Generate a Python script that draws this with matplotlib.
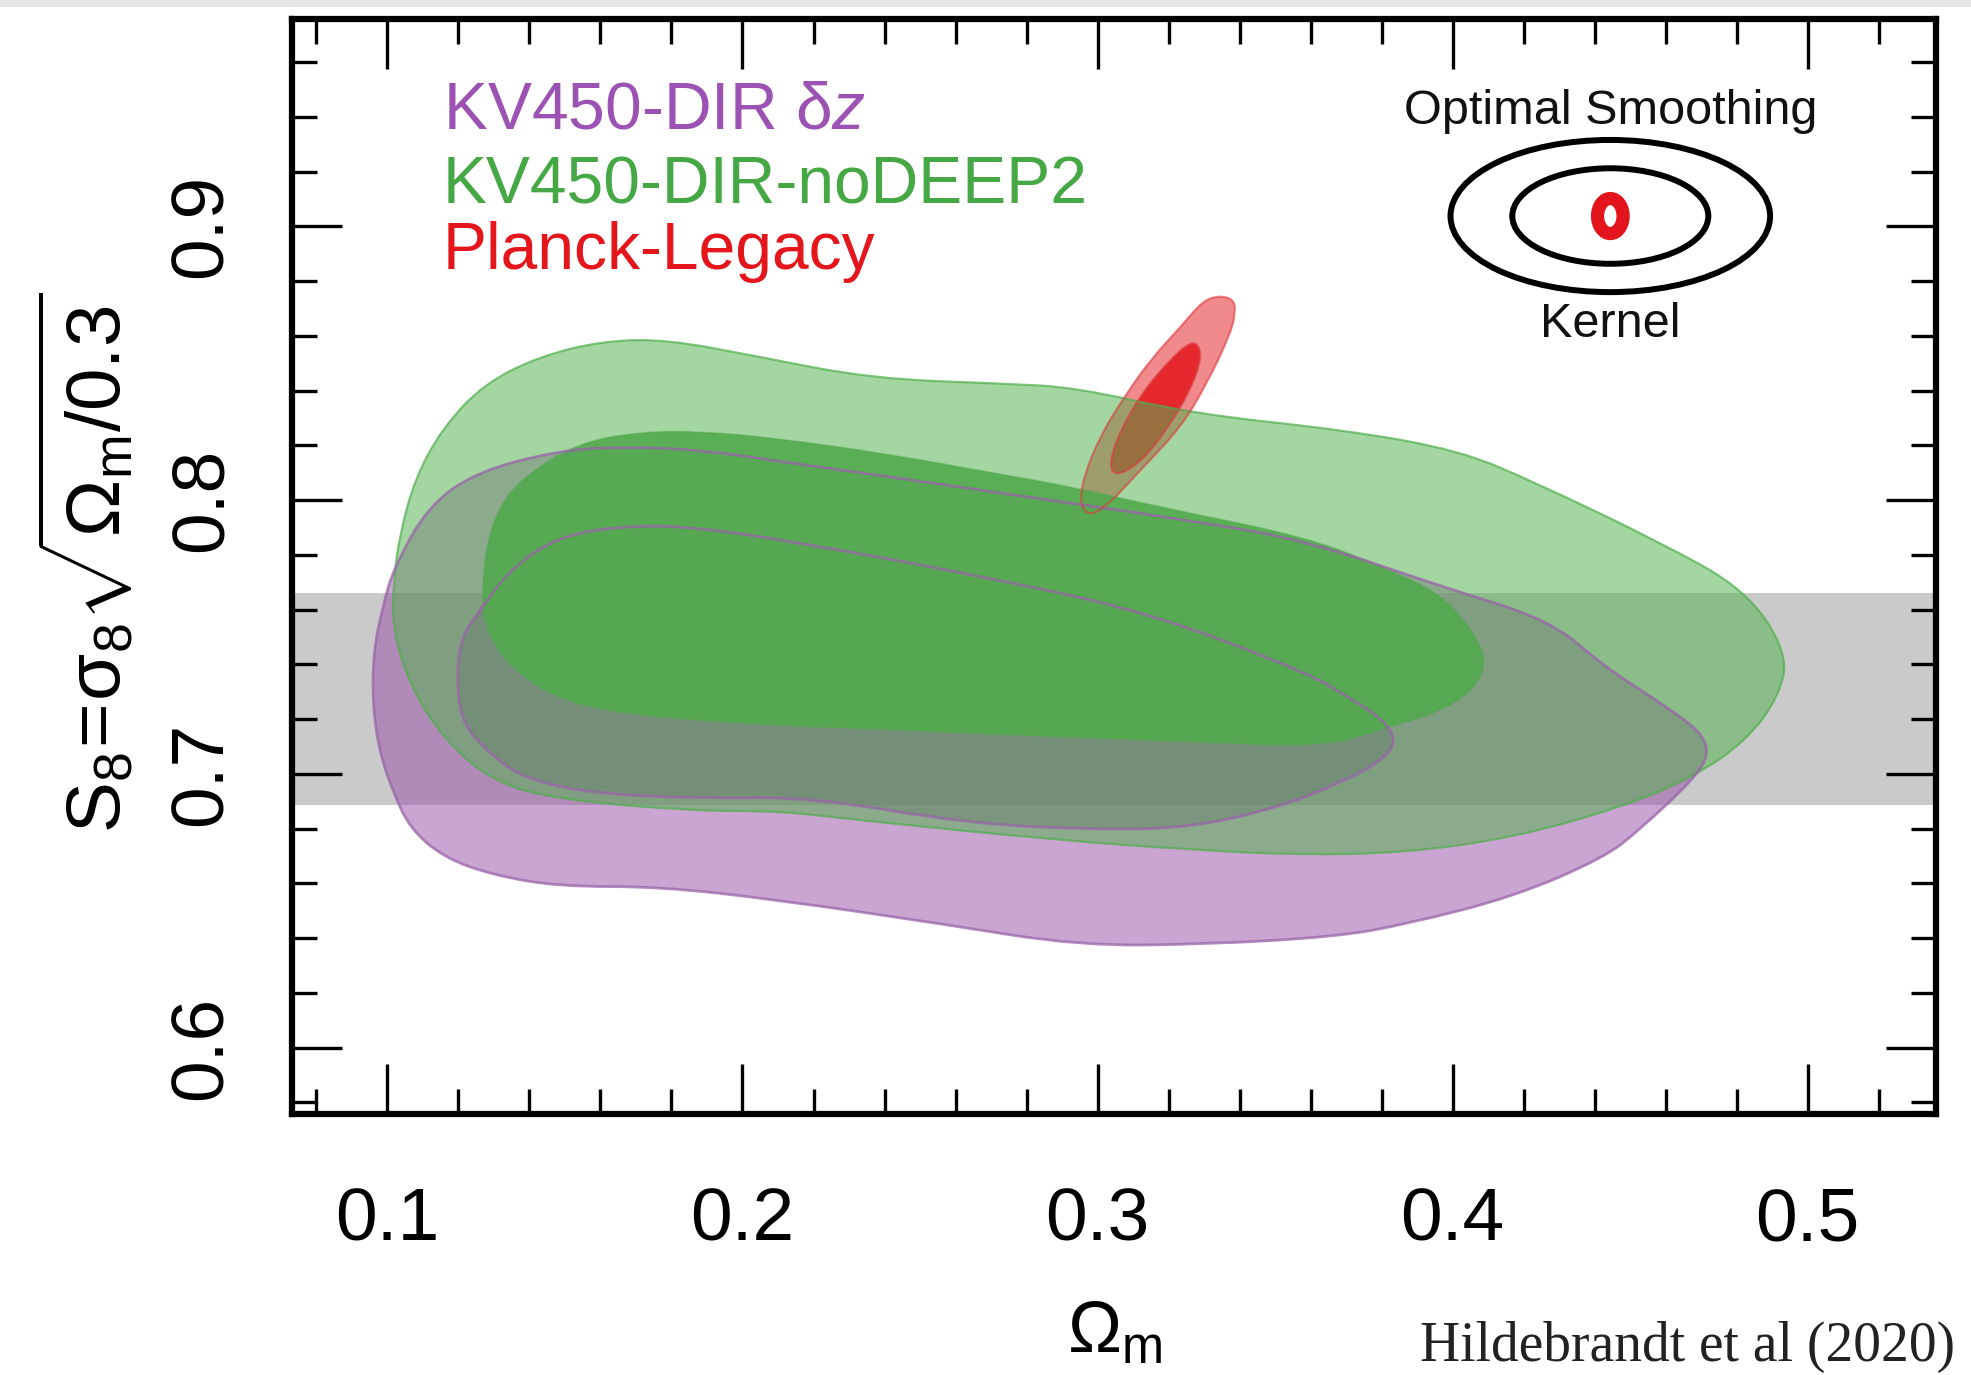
import numpy as np
import matplotlib
matplotlib.use("Agg")
import matplotlib.pyplot as plt
from matplotlib.path import Path
from matplotlib.patches import PathPatch, Ellipse, Rectangle
from matplotlib.ticker import MultipleLocator

plt.rcParams["font.family"] = ["Liberation Sans", "DejaVu Sans"]
plt.rcParams["mathtext.fontset"] = "custom"
plt.rcParams["mathtext.rm"] = "Liberation Sans"
plt.rcParams["mathtext.it"] = "Liberation Sans:italic"
plt.rcParams["mathtext.sf"] = "Liberation Sans"

# contour outlines in (Omega_m, S8); outer = 95%, inner = 68%
dz_outer_om = [0.0958, 0.0961, 0.0989, 0.1018, 0.1113, 0.1251, 0.1485, 0.1676, 0.1892, 0.2108,
               0.2388, 0.2727, 0.3265, 0.3591, 0.3973, 0.4274, 0.4427, 0.4575, 0.4696, 0.4724,
               0.4678, 0.4526, 0.4427, 0.4175, 0.3871, 0.3673, 0.3308, 0.2947, 0.2565, 0.2108,
               0.1768, 0.1485, 0.1297, 0.1159, 0.1064, 0.1018, 0.0979]
dz_outer_s8 = [0.7254, 0.7452, 0.7622, 0.7751, 0.7976, 0.8104, 0.8182, 0.8196, 0.8182, 0.8141,
               0.8090, 0.8026, 0.7925, 0.7852, 0.7682, 0.7562, 0.7392, 0.7268, 0.7158, 0.7075,
               0.6979, 0.6795, 0.6694, 0.6552, 0.6451, 0.6405, 0.6377, 0.6372, 0.6451, 0.6538,
               0.6588, 0.6588, 0.6630, 0.6694, 0.6800, 0.6928, 0.7071]

dz_inner_om = [0.1195, 0.1212, 0.1251, 0.1347, 0.1485, 0.1676, 0.1864, 0.2175, 0.2727, 0.3156,
               0.3591, 0.3704, 0.3804, 0.3842, 0.3804, 0.3704, 0.3513, 0.3265, 0.3014, 0.2635,
               0.2196, 0.1881, 0.1581, 0.1393, 0.1297, 0.1205]
dz_inner_s8 = [0.7388, 0.7507, 0.7581, 0.7751, 0.7870, 0.7907, 0.7902, 0.7842, 0.7709, 0.7585,
               0.7369, 0.7282, 0.7199, 0.7121, 0.7052, 0.6979, 0.6878, 0.6804, 0.6795, 0.6818,
               0.6915, 0.6910, 0.6928, 0.6979, 0.7062, 0.7190]

nodeep2_outer_om = [0.1014, 0.1018, 0.1035, 0.1078, 0.1156, 0.1273, 0.1432, 0.1609, 0.1786, 0.2034,
                    0.2363, 0.2727, 0.2940, 0.3265, 0.3697, 0.4019, 0.4235, 0.4575, 0.4827, 0.4944,
                    0.4919, 0.4827, 0.4678, 0.4476, 0.4175, 0.3871, 0.3570, 0.3273, 0.2883, 0.2317,
                    0.2108, 0.1864, 0.1485, 0.1297, 0.1159, 0.1064]
nodeep2_outer_s8 = [0.7530, 0.7714, 0.7875, 0.8081, 0.8265, 0.8426, 0.8527, 0.8582, 0.8587, 0.8527,
                    0.8444, 0.8426, 0.8412, 0.8316, 0.8256, 0.8182, 0.8063, 0.7852, 0.7672, 0.7438,
                    0.7282, 0.7121, 0.6988, 0.6878, 0.6768, 0.6712, 0.6703, 0.6722, 0.6758, 0.6832,
                    0.6864, 0.6864, 0.6905, 0.6970, 0.7126, 0.7319]

nodeep2_inner_om = [0.1265, 0.1280, 0.1312, 0.1375, 0.1535, 0.1722, 0.1892, 0.2108, 0.2388, 0.2727,
                    0.2940, 0.3156, 0.3591, 0.3804, 0.3966, 0.4062, 0.4097, 0.4051, 0.3952, 0.3821,
                    0.3641, 0.3273, 0.2887, 0.2388, 0.2108, 0.1881, 0.1676, 0.1485, 0.1347, 0.1280]
nodeep2_inner_s8 = [0.7650, 0.7842, 0.7966, 0.8077, 0.8210, 0.8251, 0.8251, 0.8224, 0.8173, 0.8095,
                    0.8045, 0.7980, 0.7865, 0.7755, 0.7659, 0.7512, 0.7401, 0.7296, 0.7222, 0.7172,
                    0.7098, 0.7117, 0.7135, 0.7163, 0.7176, 0.7195, 0.7218, 0.7268, 0.7388, 0.7516]

planck_outer_om = [0.3297, 0.3343, 0.3382, 0.3389, 0.3375, 0.3308, 0.3234, 0.3120, 0.3035, 0.2975,
                   0.2950, 0.2961, 0.3007, 0.3074, 0.3149, 0.3234]
planck_outer_s8 = [0.8729, 0.8747, 0.8734, 0.8692, 0.8610, 0.8426, 0.8265, 0.8109, 0.7989, 0.7939,
                   0.7989, 0.8086, 0.8233, 0.8375, 0.8513, 0.8633]

planck_inner_om = [0.3280, 0.3294, 0.3262, 0.3195, 0.3120, 0.3050, 0.3032, 0.3064, 0.3131, 0.3205, 0.3251]
planck_inner_s8 = [0.8577, 0.8522, 0.8403, 0.8256, 0.8136, 0.8086, 0.8132, 0.8256, 0.8403, 0.8513, 0.8568]

# S8 band
band_s8 = [0.6887, 0.7659]

# smoothing kernel sketch: centre, outer / inner ring sizes, and the small red ring
kernel_centre = (0.4444, 0.9038)
kernel_rings = [(0.0900, 0.0556), (0.0552, 0.0349)]
kernel_dot = (0.0072, 0.0128)

legend_labels = ["KV450-DIR δ$z$", "KV450-DIR-noDEEP2", "Planck-Legacy"]
legend_colors = ["#9b52b3", "#46a845", "#e4161c"]

xticks = [0.1, 0.2, 0.3, 0.4, 0.5]
xtick_labels = ["0.1", "0.2", "0.3", "0.4", "0.5"]
yticks = [0.6, 0.7, 0.8, 0.9]
ytick_labels = ["0.6", "0.7", "0.8", "0.9"]


def closed_curve(xs, ys):
    # quadratic bezier through the midpoints -> smooth closed outline
    pts = np.column_stack([xs, ys])
    mids = (pts + np.roll(pts, -1, axis=0)) / 2.0
    verts = [mids[-1]]
    codes = [Path.MOVETO]
    for p, m in zip(pts, mids):
        verts += [p, m]
        codes += [Path.CURVE3, Path.CURVE3]
    verts.append(mids[-1])
    codes.append(Path.CLOSEPOLY)
    return Path(verts, codes)


def fill_region(ax, xs, ys, color, alpha, z):
    ax.add_patch(PathPatch(closed_curve(xs, ys), facecolor=color, edgecolor="none",
                           alpha=alpha, zorder=z))


def outline_region(ax, xs, ys, color, alpha, lw, z):
    ax.add_patch(PathPatch(closed_curve(xs, ys), facecolor="none", edgecolor=color,
                           alpha=alpha, lw=lw, zorder=z))


fig = plt.figure(figsize=(19.71, 13.75), dpi=100)
ax = fig.add_axes([0.1481, 0.1898, 0.8341, 0.7964])

ax.axhspan(band_s8[0], band_s8[1], color="#cacaca", lw=0, zorder=0.5)

# purple (delta z), then Planck, then noDEEP2 on top
fill_region(ax, dz_outer_om, dz_outer_s8, "#974da5", 0.5, 1)
fill_region(ax, dz_inner_om, dz_inner_s8, "#8a4898", 0.5, 1.1)
fill_region(ax, planck_outer_om, planck_outer_s8, "#f08a8c", 1.0, 2)
fill_region(ax, planck_inner_om, planck_inner_s8, "#e5282e", 1.0, 2.1)
fill_region(ax, nodeep2_outer_om, nodeep2_outer_s8, "#52b24e", 0.52, 3)
fill_region(ax, nodeep2_inner_om, nodeep2_inner_s8, "#52aa4d", 0.9, 3.1)

outline_region(ax, nodeep2_outer_om, nodeep2_outer_s8, "#4fae4b", 0.7, 1.6, 3.5)
outline_region(ax, nodeep2_inner_om, nodeep2_inner_s8, "#4fa54b", 0.4, 1.2, 3.5)
outline_region(ax, dz_outer_om, dz_outer_s8, "#9a64aa", 0.75, 2.0, 4)
outline_region(ax, dz_inner_om, dz_inner_s8, "#9a64aa", 0.75, 2.0, 4)
outline_region(ax, planck_outer_om, planck_outer_s8, "#dd3a3e", 0.6, 1.6, 4.5)
outline_region(ax, planck_inner_om, planck_inner_s8, "#dd3a3e", 0.6, 1.6, 4.5)

# kernel sketch in the corner
for w, h in kernel_rings:
    ax.add_patch(Ellipse(kernel_centre, w, h, fill=False, ec="black", lw=4.3, zorder=5))
ax.add_patch(Ellipse(kernel_centre, kernel_dot[0], kernel_dot[1], fill=False,
                     ec="#e3141b", lw=9.5, zorder=5))
ax.text(kernel_centre[0], 0.9375, "Optimal Smoothing", ha="center", va="baseline",
        fontsize=35, color="#111111", zorder=6)
ax.text(kernel_centre[0], 0.8596, "Kernel", ha="center", va="baseline",
        fontsize=35, color="#111111", zorder=6)

for lab, col, yb in zip(legend_labels, legend_colors, [0.9358, 0.9083, 0.8844]):
    ax.text(0.1156, yb, lab, color=col, fontsize=47.5, ha="left", va="baseline", zorder=6)

ax.set_xlim(0.0731, 0.5361)
ax.set_ylim(0.5757, 0.9758)
ax.set_xticks(xticks)
ax.set_xticklabels(xtick_labels)
ax.set_yticks(yticks)
ax.set_yticklabels(ytick_labels, rotation=90, va="center")
ax.xaxis.set_minor_locator(MultipleLocator(0.02))
ax.yaxis.set_minor_locator(MultipleLocator(0.02))
ax.tick_params(which="both", direction="in", top=True, right=True, width=2.4, color="black")
ax.tick_params(which="major", length=36, labelsize=54, pad=40)
ax.tick_params(axis="x", which="major", pad=52)
ax.tick_params(which="minor", length=18)
for sp in ax.spines.values():
    sp.set_linewidth(4.5)
    sp.set_zorder(7)

fig.text(0.0435, 0.5905, r"$\mathrm{S}_8\!=\!\mathrm{\sigma}_8\sqrt{\Omega_\mathrm{m}/0.3}$",
         rotation=90, ha="center", va="center", fontsize=55)
fig.text(0.5657, 0.016, r"$\Omega_\mathrm{m}$", ha="center", va="baseline", fontsize=52)
fig.text(0.992, 0.0102, "Hildebrandt et al (2020)", ha="right", va="baseline",
         fontsize=40, family="Liberation Serif", color="#222222")

fig.patches.append(Rectangle((0, 1 - 7 / 1375), 1, 7 / 1375, transform=fig.transFigure,
                             facecolor="#e6e6e6", edgecolor="none"))

fig.savefig("out.png", dpi=100)
